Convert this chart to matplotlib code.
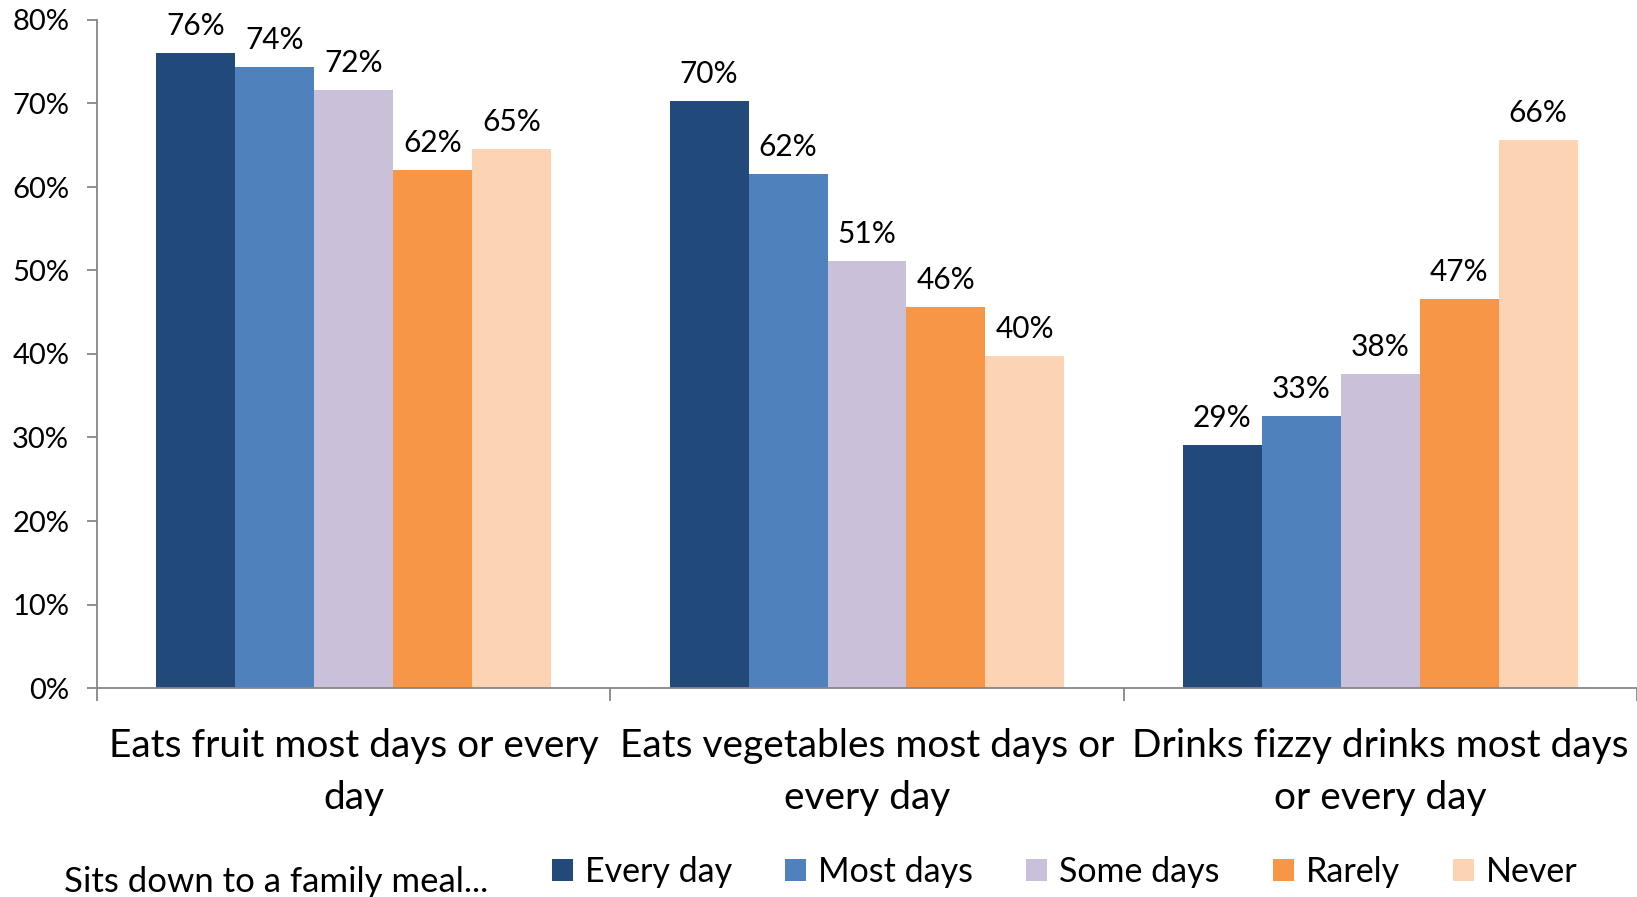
import matplotlib
matplotlib.use("Agg")
import matplotlib.pyplot as plt
from matplotlib.patches import Patch
import numpy as np

plt.rcParams['font.family'] = ['Lato', 'DejaVu Sans']

categories = ["Eats fruit most days or every\nday",
              "Eats vegetables most days or\nevery day",
              "Drinks fizzy drinks most days\nor every day"]
series = ["Every day", "Most days", "Some days", "Rarely", "Never"]
every_day = [76.0, 70.3, 29.1]
most_days = [74.4, 61.6, 32.6]
some_days = [71.6, 51.1, 37.6]
rarely = [62.0, 45.6, 46.6]
never = [64.6, 39.8, 65.6]
colors = ["#214A7B", "#4F81BD", "#CAC0DA", "#F79646", "#FCD4B4"]
y_ticks = [0, 10, 20, 30, 40, 50, 60, 70, 80]
legend_title = "Sits down to a family meal..."

W, H = 1637, 897
fig = plt.figure(figsize=(W / 100, H / 100), dpi=100)
ax = fig.add_axes([97 / W, 1 - 688 / H, (1637 - 97) / W, (688 - 20) / H])

values = [every_day, most_days, some_days, rarely, never]
x = np.arange(len(categories))
bw = 1 / 6.5
offsets = (np.arange(len(series)) - 2) * bw
for vals, off, col, name in zip(values, offsets, colors, series):
    bars = ax.bar(x + off, vals, width=bw, color=col, label=name, linewidth=0)
    for b, v in zip(bars, vals):
        ax.annotate(f"{v:.0f}%", (b.get_x() + b.get_width() / 2, v),
                    xytext=(0, 13), textcoords="offset points",
                    ha="center", va="baseline", fontsize=21.5, color="black")

ax.set_xlim(-0.5, 2.5)
ax.set_ylim(0, 80)
ax.set_yticks(y_ticks)
ax.set_yticklabels([f"{t}%" for t in y_ticks], fontsize=21)
ax.set_xticks(x)
ax.set_xticklabels(categories, fontsize=28, linespacing=1.55)
ax.tick_params(axis="x", which="major", length=0, pad=29)
ax.set_xticks([-0.5, 0.5, 1.5, 2.5], minor=True)
ax.tick_params(axis="x", which="minor", length=9, width=1.3, color="#868686", direction="out")
ax.tick_params(axis="y", length=7, width=1.3, color="#868686", direction="out", pad=13)

for s in ["top", "right"]:
    ax.spines[s].set_visible(False)
for s in ["left", "bottom"]:
    ax.spines[s].set_color("#868686")
    ax.spines[s].set_linewidth(1.3)

handles = [Patch(facecolor=c, edgecolor="none", label=n) for c, n in zip(colors, series)]
fig.legend(handles=handles, loc="center left", bbox_to_anchor=(552 / W, 1 - 872 / H),
           ncol=5, frameon=False, fontsize=24.5, handlelength=0.62, handleheight=0.62,
           handletextpad=0.35, columnspacing=1.56, borderaxespad=0, borderpad=0)
fig.text(64 / W, 1 - 882 / H, legend_title, fontsize=25, ha="left", va="center")

fig.savefig("out.png", dpi=100)
